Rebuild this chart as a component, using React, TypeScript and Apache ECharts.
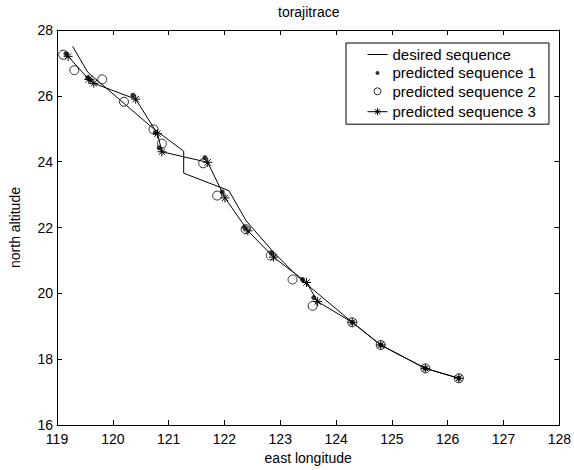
import React, { useEffect, useRef } from 'react';
import * as echarts from 'echarts';

// Axis ticks
const xMin = 119;
const xMax = 128;
const yMin = 16;
const yMax = 28;

// desired sequence (solid line)
const desiredLon = [119.28, 119.55, 120.73, 121.27, 121.27, 122.08, 122.39, 122.88, 123.35, 124.29, 124.8, 125.6, 126.2];
const desiredLat = [27.5, 26.72, 25.0, 24.32, 23.65, 23.12, 22.2, 21.25, 20.45, 19.12, 18.43, 17.72, 17.42];

// predicted sequence 1 (dots)
const pred1Lon = [119.16, 119.55, 119.6, 120.36, 120.76, 120.83, 121.65, 121.96, 122.36, 122.84, 123.4, 123.6, 124.29, 124.8, 125.6, 126.2];
const pred1Lat = [27.28, 26.55, 26.48, 26.02, 24.88, 24.42, 24.12, 23.08, 22.0, 21.22, 20.42, 19.87, 19.12, 18.43, 17.72, 17.42];

// predicted sequence 2 (circles)
const pred2Lon = [119.11, 119.31, 119.81, 120.2, 120.73, 120.88, 121.62, 121.87, 122.38, 122.83, 123.22, 123.58, 124.29, 124.8, 125.6, 126.2];
const pred2Lat = [27.25, 26.78, 26.5, 25.82, 24.98, 24.55, 23.95, 22.97, 21.95, 21.15, 20.42, 19.62, 19.12, 18.43, 17.72, 17.42];

// predicted sequence 3 (asterisks with line)
const pred3Lon = [119.2, 119.57, 119.66, 120.41, 120.8, 120.88, 121.7, 122.01, 122.42, 122.88, 123.47, 123.67, 124.29, 124.8, 125.6, 126.2];
const pred3Lat = [27.2, 26.5, 26.38, 25.9, 24.85, 24.3, 23.98, 22.9, 21.9, 21.1, 20.33, 19.75, 19.12, 18.43, 17.72, 17.42];

const seriesNames = ['desired sequence', 'predicted sequence 1', 'predicted sequence 2', 'predicted sequence 3'];

const zip = (a: number[], b: number[]) => a.map((v, i) => [v, b[i]]);

const FONT = '"Liberation Sans", Arial, Helvetica, sans-serif';
const STAR = 'path://M0,-10L0,10M-10,0L10,0M-7,-7L7,7M-7,7L7,-7';

export default function App() {
  const ref = useRef<HTMLDivElement>(null);
  useEffect(() => {
    const chart = echarts.init(ref.current!, null, { renderer: 'svg' });
    const axisLine = { show: true, onZero: false, lineStyle: { color: '#000', width: 1 } };
    const axisTick = { show: true, inside: true, length: 5, lineStyle: { color: '#000', width: 1 } };
    const nameStyle = { color: '#000', fontSize: 14, fontFamily: FONT };
    chart.setOption({
      animation: false,
      backgroundColor: '#fff',
      title: {
        text: 'torajitrace',
        left: 273,
        top: 0,
        textStyle: { fontSize: 14, fontWeight: 'normal', color: '#000', fontFamily: FONT },
      },
      grid: { left: 56, right: 12, top: 30, bottom: 40, containLabel: false },
      xAxis: [
        {
          type: 'value', min: xMin, max: xMax, interval: 1, position: 'bottom',
          axisLine, axisTick,
          axisLabel: { color: '#000', fontSize: 14, lineHeight: 13, fontFamily: FONT, margin: 7 },
          splitLine: { show: false },
          name: 'east longitude', nameLocation: 'middle', nameGap: 26, nameTextStyle: nameStyle,
        },
        {
          type: 'value', min: xMin, max: xMax, interval: 1, position: 'top',
          axisLine, axisTick, axisLabel: { show: false }, splitLine: { show: false },
        },
      ],
      yAxis: [
        {
          type: 'value', min: yMin, max: yMax, interval: 2, position: 'left',
          axisLine, axisTick,
          axisLabel: { color: '#000', fontSize: 14, lineHeight: 13, fontFamily: FONT, margin: 4 },
          splitLine: { show: false },
          name: 'north altitude', nameLocation: 'middle', nameGap: 35, nameTextStyle: nameStyle,
        },
        {
          type: 'value', min: yMin, max: yMax, interval: 2, position: 'right',
          axisLine, axisTick, axisLabel: { show: false }, splitLine: { show: false },
        },
      ],
      legend: {
        orient: 'vertical',
        left: 346,
        top: 43,
        padding: [2, 13, 3, 19],
        itemWidth: 20,
        itemHeight: 14,
        itemGap: 1.4,
        borderColor: '#000',
        borderWidth: 1,
        borderRadius: 0,
        backgroundColor: '#fff',
        selectedMode: false,
        textStyle: { color: '#000', fontSize: 15, fontFamily: FONT },
        data: [
          { name: seriesNames[0], icon: 'path://M0,0M20,14M0,7L20,7', itemStyle: { color: 'none', borderColor: '#000', borderWidth: 1 } },
          { name: seriesNames[1], icon: 'path://M0,0M20,14M12,7A2,2,0,1,1,8,7A2,2,0,1,1,12,7Z', itemStyle: { color: '#000', borderColor: '#000', borderWidth: 0 } },
          { name: seriesNames[2], icon: 'path://M0,0M20,14M13.5,7A3.5,3.5,0,1,1,6.5,7A3.5,3.5,0,1,1,13.5,7Z', itemStyle: { color: 'none', borderColor: '#000', borderWidth: 1 } },
          { name: seriesNames[3], icon: 'path://M0,0M20,14M0,7L20,7M10,3.5L10,10.5M6.5,7L13.5,7M7.5,4.5L12.5,9.5M7.5,9.5L12.5,4.5', itemStyle: { color: 'none', borderColor: '#000', borderWidth: 1 } },
        ],
      },
      series: [
        {
          name: seriesNames[0], type: 'line', data: zip(desiredLon, desiredLat),
          symbol: 'none', lineStyle: { color: '#000', width: 1 }, itemStyle: { color: '#000' },
          silent: true, z: 2,
        },
        {
          name: seriesNames[1], type: 'scatter', data: zip(pred1Lon, pred1Lat),
          symbol: 'circle', symbolSize: 5, itemStyle: { color: '#000' }, silent: true, z: 3,
        },
        {
          name: seriesNames[2], type: 'scatter', data: zip(pred2Lon, pred2Lat),
          symbol: 'circle', symbolSize: 9,
          itemStyle: { color: 'rgba(0,0,0,0)', borderColor: '#000', borderWidth: 1 }, silent: true, z: 3,
        },
        {
          name: seriesNames[3], type: 'line', data: zip(pred3Lon, pred3Lat),
          symbol: STAR, symbolSize: 9, showSymbol: true, showAllSymbol: true,
          lineStyle: { color: '#000', width: 1 },
          itemStyle: { color: '#000', borderColor: '#000', borderWidth: 1 },
          silent: true, z: 3,
        },
      ],
    });
    return () => chart.dispose();
  }, []);
  return (
    <div
      ref={ref}
      style={{ position: 'fixed', left: 0, top: 0, width: 574, height: 470, background: '#fff' }}
    />
  );
}
